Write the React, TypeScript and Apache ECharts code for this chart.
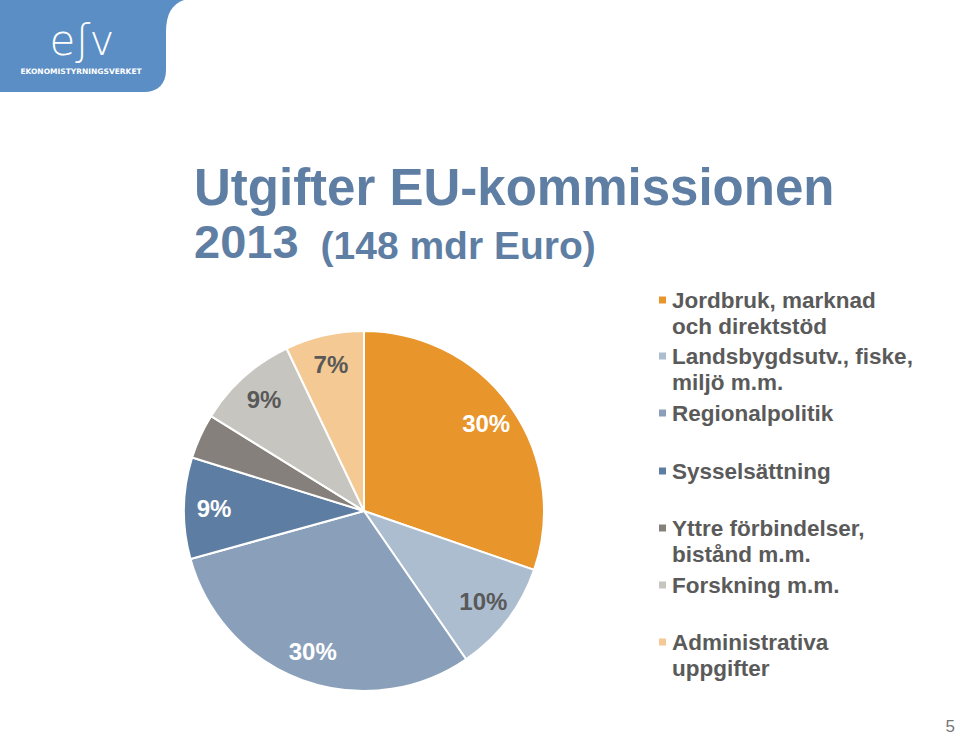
import React, { useEffect, useRef } from 'react';
import * as echarts from 'echarts';

const categories = [
  'Jordbruk, marknad och direktstöd',
  'Landsbygdsutv., fiske, miljö m.m.',
  'Regionalpolitik',
  'Sysselsättning',
  'Yttre förbindelser, bistånd m.m.',
  'Forskning m.m.',
  'Administrativa uppgifter',
];
const legendLabels = [
  'Jordbruk, marknad\noch direktstöd',
  'Landsbygdsutv., fiske,\nmiljö m.m.',
  'Regionalpolitik',
  'Sysselsättning',
  'Yttre förbindelser,\nbistånd m.m.',
  'Forskning m.m.',
  'Administrativa\nuppgifter',
];
const shares = [30, 10, 30, 9, 4, 9, 7];
const sliceLabels = ['30%', '10%', '30%', '9%', '', '9%', '7%'];
const colors = ['#e8952b', '#adbdd0', '#8aa0ba', '#5e7da3', '#85807b', '#c7c5c0', '#f4c993'];
const labelColors = ['#ffffff', '#595959', '#ffffff', '#ffffff', '#595959', '#595959', '#595959'];

const FONT = '"Liberation Sans", Arial, Helvetica, sans-serif';
const legendCenters = [300, 356, 413, 471, 528, 585, 642];

const logoPath = 'M0,0 H184 C172,4 166,14 166,32 V70 C166,84 158,92 144,92 H0 Z';
echarts.graphic.registerShape('esvShape', echarts.graphic.extendPath(logoPath, {}) as any);

// square icon sitting at the top of a tall (invisible) box, for two-line legend entries
const topSquareIcon = 'path://M0,0h9v9h-9z M0,35h0.01v0.01h-0.01z';

export default function App() {
  const ref = useRef<HTMLDivElement>(null);
  useEffect(() => {
    const chart = echarts.init(ref.current!, null, { renderer: 'svg' });
    const mainData = categories.map((name, i) => ({
      name,
      value: shares[i],
      itemStyle: { color: colors[i] },
    }));
    const labelData = categories.map((name, i) => ({
      name,
      value: shares[i],
      label: { show: sliceLabels[i] !== '', color: labelColors[i] },
    }));
    const option: any = {
      animation: false,
      backgroundColor: '#ffffff',
      title: {
        left: 194,
        top: 161,
        padding: 0,
        text: '{a|Utgifter EU-kommissionen}\n{c|2013}{b|(148 mdr Euro)}',
        textStyle: {
          rich: {
            a: { fontSize: 51, fontWeight: 'bold', color: '#5f7ea3', fontFamily: FONT, lineHeight: 52, verticalAlign: 'bottom' },
            c: { fontSize: 47, fontWeight: 'bold', color: '#5f7ea3', fontFamily: FONT, lineHeight: 52, verticalAlign: 'bottom' },
            b: { fontSize: 39, fontWeight: 'bold', color: '#5f7ea3', fontFamily: FONT, lineHeight: 52, verticalAlign: 'bottom', padding: [0, 0, 0, 22] },
          },
        },
      },
      legend: categories.map((name, i) => {
        const twoLine = legendLabels[i].includes('\n');
        return {
          data: [{ name, icon: twoLine ? topSquareIcon : 'rect' }],
          left: 657,
          top: legendCenters[i] - 13,
          orient: 'vertical',
          padding: 0,
          itemWidth: 9,
          itemHeight: twoLine ? 35 : 9,
          symbolKeepAspect: false,
          selectedMode: false,
          formatter: () => legendLabels[i],
          textStyle: {
            fontSize: 22.5,
            fontWeight: 'bold',
            color: '#5a5a5a',
            fontFamily: FONT,
            lineHeight: 26,
          },
        };
      }),
      series: [
        {
          type: 'pie',
          name: 'main',
          center: [364, 511],
          radius: 180,
          startAngle: 90,
          clockwise: true,
          label: { show: false },
          labelLine: { show: false },
          itemStyle: { borderColor: '#ffffff', borderWidth: 2 },
          emphasis: { disabled: true },
          data: mainData,
        },
        {
          type: 'pie',
          name: 'labels',
          center: [364, 511],
          radius: [114, 180],
          startAngle: 90,
          clockwise: true,
          silent: true,
          legendHoverLink: false,
          itemStyle: { color: 'rgba(0,0,0,0)', borderWidth: 0 },
          label: {
            position: 'inside',
            fontSize: 24,
            fontWeight: 'bold',
            fontFamily: FONT,
            formatter: (p: any) => sliceLabels[p.dataIndex],
          },
          labelLine: { show: false },
          emphasis: { disabled: true },
          data: labelData,
        },
      ],
      graphic: [
        {
          type: 'group',
          left: 0,
          top: 0,
          children: [
            { type: 'esvShape', x: 0, y: 0, style: { fill: '#5b8ec4' } },
            {
              type: 'text',
              x: 82,
              y: 40,
              style: { text: 'eʃv', fill: '#ffffff', font: '300 42px "DejaVu Sans", sans-serif', textAlign: 'center', textVerticalAlign: 'middle' },
            },
            {
              type: 'text',
              x: 81,
              y: 71,
              style: { text: 'EKONOMISTYRNINGSVERKET', fill: '#ffffff', font: 'bold 7.5px "DejaVu Sans", sans-serif', textAlign: 'center', textVerticalAlign: 'middle' },
            },
          ],
        },
        {
          type: 'text',
          right: 5,
          top: 718,
          style: { text: '5', fill: '#777777', font: '17px "Liberation Sans", Arial, sans-serif' },
        },
      ],
    };
    chart.setOption(option);
    return () => chart.dispose();
  }, []);
  return (
    <div
      ref={ref}
      style={{ position: 'absolute', left: 0, top: 0, width: 960, height: 737, background: '#fff' }}
    />
  );
}
